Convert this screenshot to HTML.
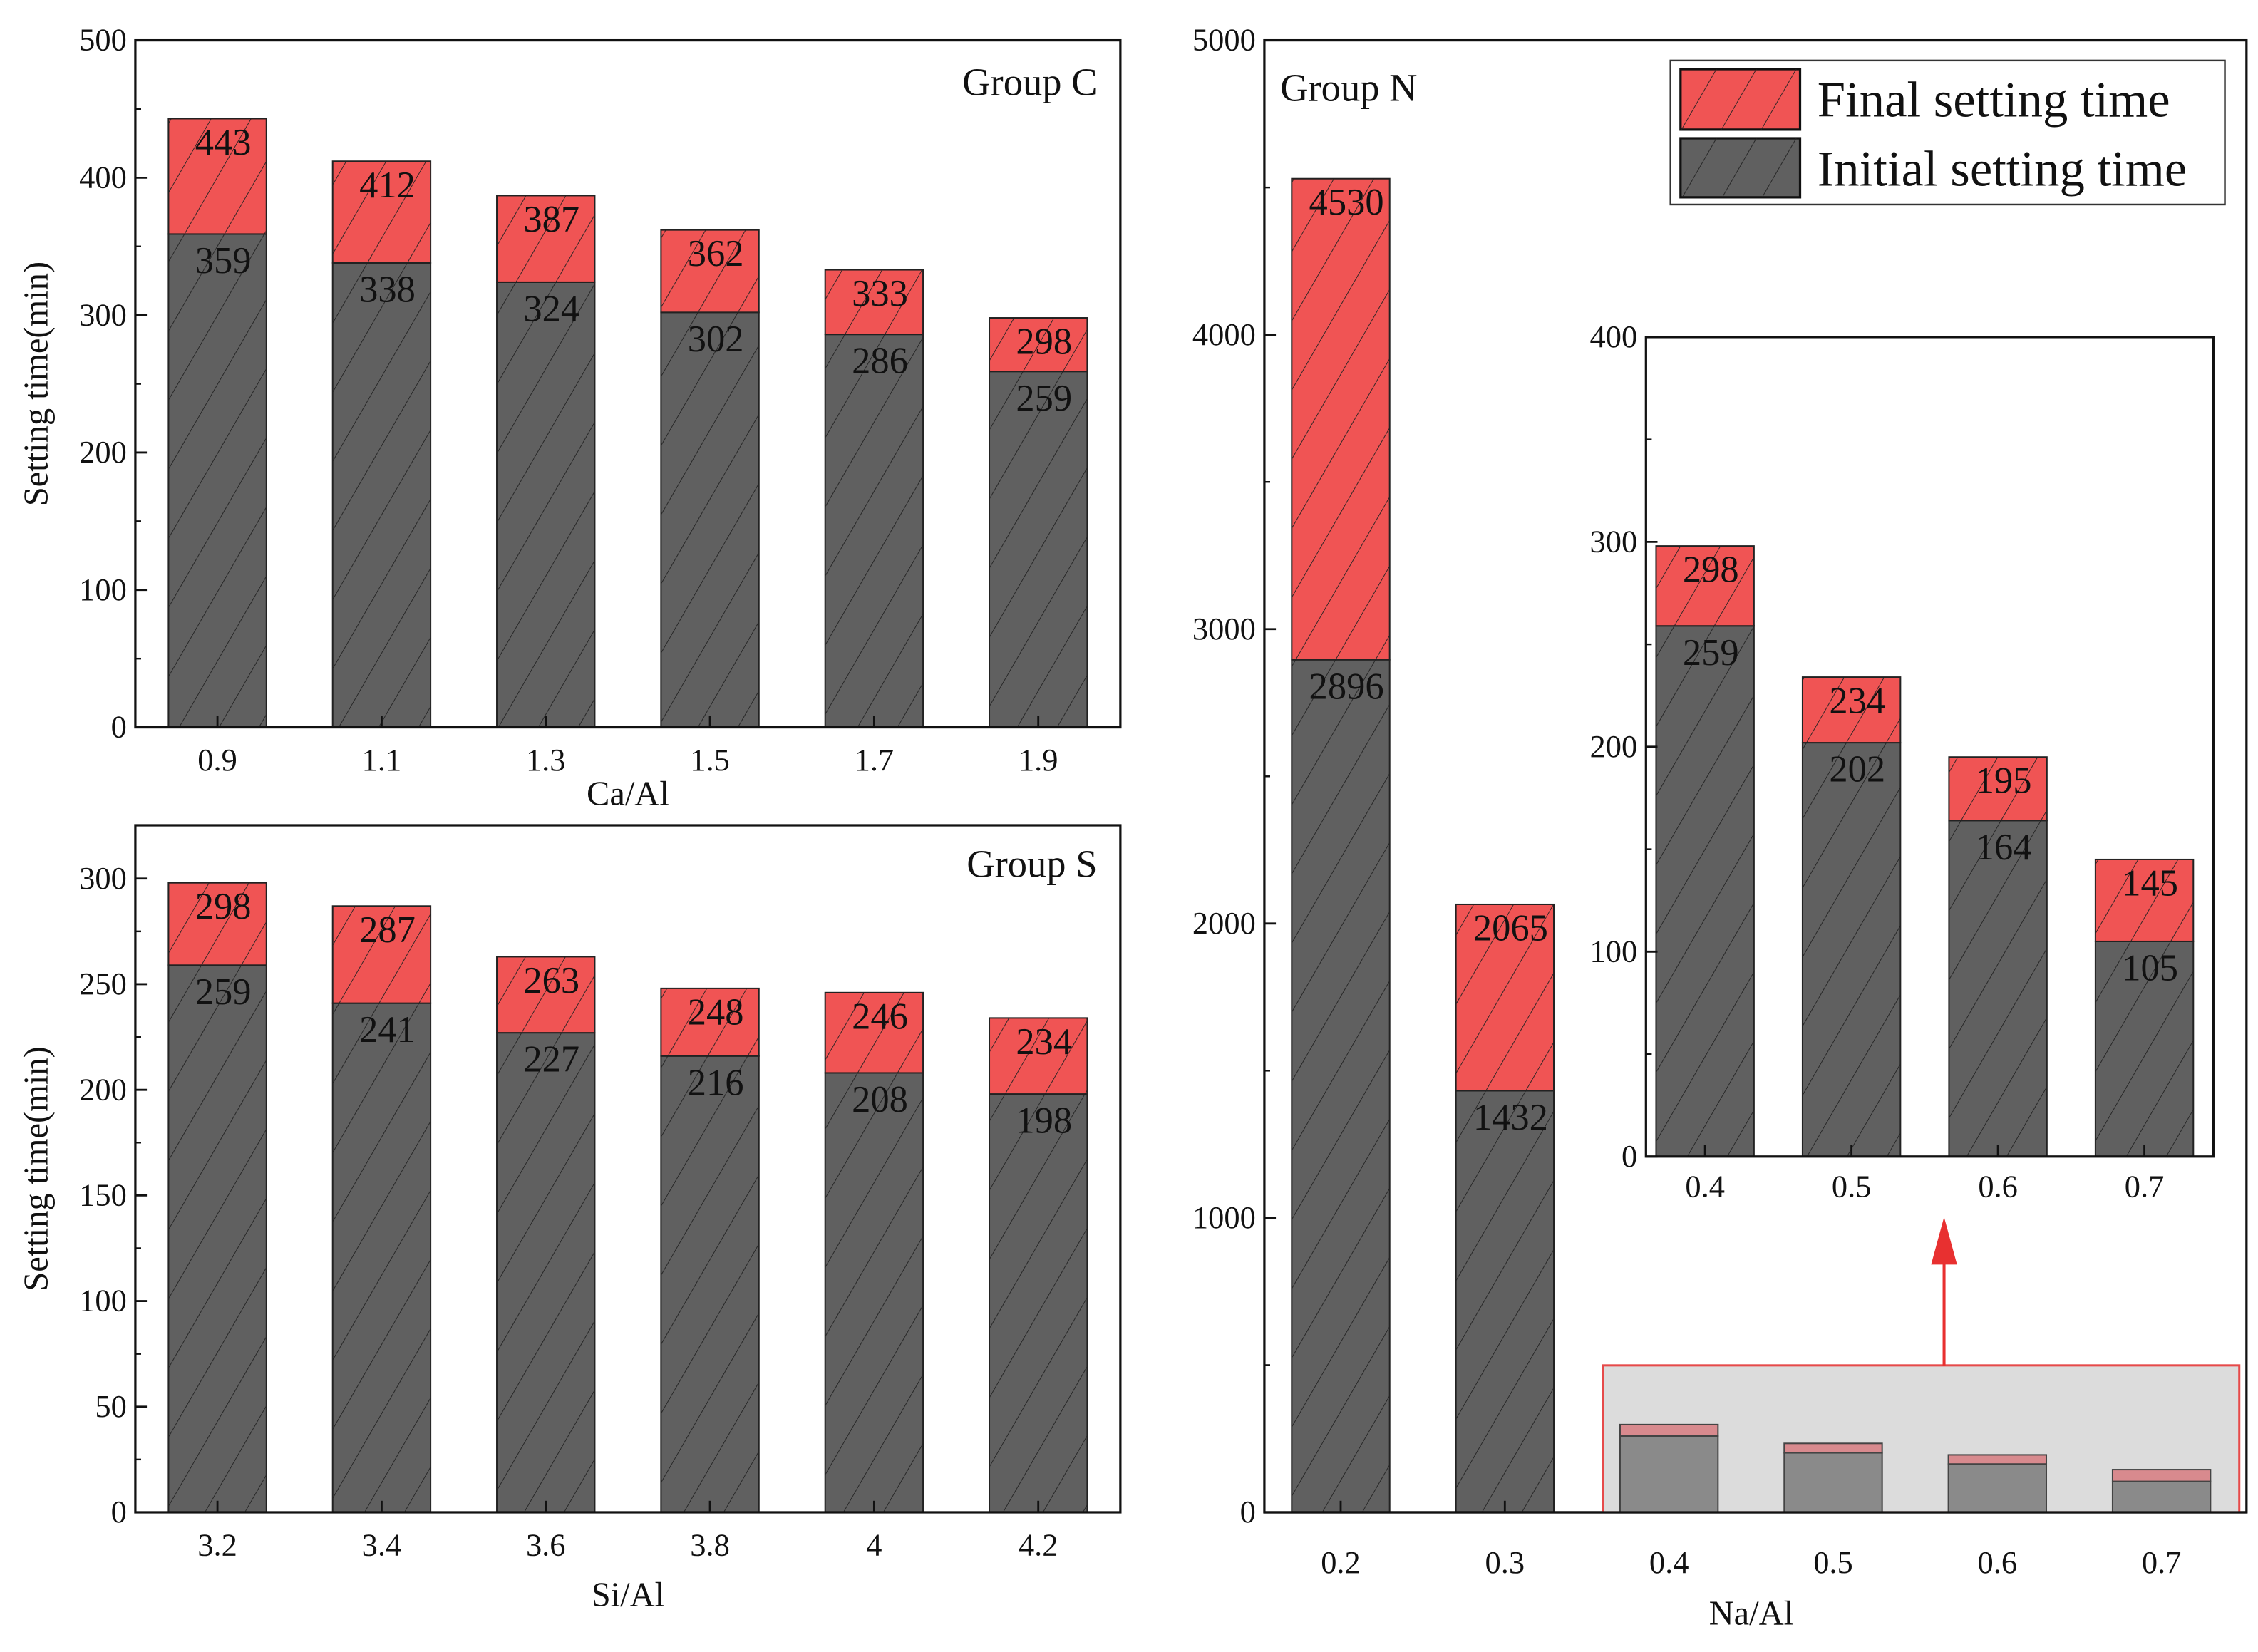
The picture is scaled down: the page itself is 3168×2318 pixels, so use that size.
<!DOCTYPE html>
<html><head><meta charset="utf-8"><style>
html,body{margin:0;padding:0;background:#fff;}
svg{display:block;}
svg text{font-family:"Liberation Serif","Times New Roman",serif;fill:#111;}
</style></head><body>
<svg id="fig" xmlns="http://www.w3.org/2000/svg" width="3168" height="2318" viewBox="0 0 1568 1147" preserveAspectRatio="none" font-family="Liberation Serif, serif">
<defs>
<pattern id="hatch" patternUnits="userSpaceOnUse" width="24" height="24" patternTransform="rotate(30)">
<line x1="0" y1="0" x2="0" y2="24" stroke="#222" stroke-width="0.9"/>
</pattern>
</defs>
<g id="root"></g>
</svg>
<script>
// ---- data ----
const catC = ["0.9","1.1","1.3","1.5","1.7","1.9"];
const initC = [359,338,324,302,286,259];
const finalC = [443,412,387,362,333,298];
const catS = ["3.2","3.4","3.6","3.8","4","4.2"];
const initS = [259,241,227,216,208,198];
const finalS = [298,287,263,248,246,234];
const catN = ["0.2","0.3","0.4","0.5","0.6","0.7"];
const initN = [2896,1432,259,202,164,105];
const finalN = [4530,2065,298,234,195,145];
const ticksC = [0,100,200,300,400,500];
const ticksS = [0,50,100,150,200,250,300];
const ticksN = [0,1000,2000,3000,4000,5000];
const ticksInset = [0,100,200,300,400];

const NS = "http://www.w3.org/2000/svg";
const root = document.getElementById('root');
function mk(tag, attrs, parent, txt){
  const e = document.createElementNS(NS, tag);
  for (const k in attrs) e.setAttribute(k, attrs[k]);
  if (tag === 'text') e.setAttribute('font-family', 'Liberation Serif, serif');
  if (txt !== undefined) e.textContent = txt;
  (parent||root).appendChild(e);
  return e;
}
const RED = "#f05454", GRAY = "#606060";

function panel(o){
  const g = mk('g', {});
  
  
  const yS = v => o.bottom - (v - 0) / (o.ymax) * (o.bottom - o.y0top);
  const xS = i => o.x0 + i * o.step;
  o.cats.forEach((c, i) => {
    if (o.skip && o.skip.includes(i)) return;
    const cx = xS(i), w = o.bw;
    const yi = yS(o.init[i]), yf = yS(o.fin[i]);
    const bi = mk('rect', {x: cx - w/2, y: yi, width: w, height: o.bottom - yi, fill: GRAY, stroke: '#222', 'stroke-width': 1}, g);
    
    
    const hi = mk('rect', {x: cx - w/2, y: yi, width: w, height: o.bottom - yi, fill: 'url(#hatch)'}, g);
    
    
    const bf = mk('rect', {x: cx - w/2, y: yf, width: w, height: yi - yf, fill: RED, stroke: '#222', 'stroke-width': 1}, g);
    
    
    const hf = mk('rect', {x: cx - w/2, y: yf, width: w, height: yi - yf, fill: 'url(#hatch)'}, g);
    
    
    const tf = mk('text', {x: cx + 4, y: yf + 25, 'text-anchor': 'middle', 'font-size': 26}, g, String(o.fin[i]));
    
    
    const ti = mk('text', {x: cx + 4, y: yi + 27, 'text-anchor': 'middle', 'font-size': 26}, g, String(o.init[i]));
    
    
  });
  const fr = mk('rect', {x: o.left, y: o.top, width: o.right - o.left, height: o.bottom - o.top, fill: 'none', stroke: '#111', 'stroke-width': 1.6}, g);
  
  
  o.ticks.forEach((t, k) => {
    const y = yS(t);
    mk('line', {x1: o.left, x2: o.left + 8, y1: y, y2: y, stroke: '#111', 'stroke-width': 1.4}, g);
    if (k < o.ticks.length - 1) {
      const ym = yS((t + o.ticks[k+1]) / 2);
      mk('line', {x1: o.left, x2: o.left + 4, y1: ym, y2: ym, stroke: '#111', 'stroke-width': 1.2}, g);
    }
    const tl = mk('text', {x: o.left - 6, y: y + 7, 'text-anchor': 'end', 'font-size': 22}, g, String(t));
    
    
  });
  o.cats.forEach((c, i) => {
    const x = xS(i);
    mk('line', {x1: x, x2: x, y1: o.bottom, y2: o.bottom - 8, stroke: '#111', 'stroke-width': 1.4}, g);
    const xl = mk('text', {x: x, y: o.xly, 'text-anchor': 'middle', 'font-size': 22}, g, c);
    
    
  });
  if (o.xtitle) {
    const xt = mk('text', {x: o.xtx, y: o.xty, 'text-anchor': 'middle', 'font-size': 24}, g, o.xtitle);
    
    
  }
  if (o.ytitle) {
    const yt = mk('text', {x: 0, y: 0, 'text-anchor': 'middle', 'font-size': 24, transform: `translate(33,${(o.top+o.bottom)/2}) rotate(-90)`}, g, o.ytitle);
    
    
  }
  if (o.group) {
    const gt = mk('text', {x: o.gx, y: o.gy, 'text-anchor': o.ganchor, 'font-size': 27}, g, o.group);
    
    
  }
  return {yS, xS, g};
}

panel({name:'panel-group-c', cats:catC, init:initC, fin:finalC, ticks:ticksC, ymax:500,
  left:94, right:778, top:28, bottom:505, y0top:28, x0:151, step:114, bw:68,
  xly:535, xtitle:'Ca/Al', xtx:436, xty:559, ytitle:'Setting time(min)', group:'Group C', gx:762, gy:66, ganchor:'end'});
panel({name:'panel-group-s', cats:catS, init:initS, fin:finalS, ticks:ticksS, ymax:300,
  left:94, right:778, top:573, bottom:1050, y0top:610, x0:151, step:114, bw:68,
  xly:1080, xtitle:'Si/Al', xtx:436, xty:1115, ytitle:'Setting time(min)', group:'Group S', gx:762, gy:609, ganchor:'end'});

const pN = panel({name:'panel-group-n', cats:catN, init:initN, fin:finalN, ticks:ticksN, ymax:5000,
  left:878, right:1560, top:28, bottom:1050, y0top:28, x0:931, step:114, bw:68, skip:[2,3,4,5],
  xly:1092, xtitle:'Na/Al', xtx:1216, xty:1128, group:'Group N', gx:889, gy:70, ganchor:'start'});

const zb = mk('rect', {x:1113, y:948, width:442, height:102, fill:'#dcdcdc', stroke:'#e64a4a', 'stroke-width':1.5});


for (let i = 2; i < 6; i++) {
  const cx = pN.xS(i), w = 68;
  const yi = pN.yS(initN[i]), yf = pN.yS(finalN[i]);
  const b1 = mk('rect', {x: cx - w/2, y: yi, width: w, height: 1050 - yi, fill: '#8a8a8a', stroke: '#444', 'stroke-width': 1});
  
  
  const b2 = mk('rect', {x: cx - w/2, y: yf, width: w, height: yi - yf, fill: '#d88a8e', stroke: '#444', 'stroke-width': 1});
  
  
}
mk('line', {x1:878, x2:1560, y1:1050, y2:1050, stroke:'#111', 'stroke-width':1.6});
const ar = mk('line', {x1:1350, y1:948, x2:1350, y2:870, stroke:'#e83030', 'stroke-width':2});


const ah = mk('polygon', {points:'1341,878 1359,878 1350,845', fill:'#e83030'});



const inBg = mk('rect', {x:1143, y:234, width:394, height:569, fill:'#fff'});


panel({name:'inset-chart', cats:catN.slice(2), init:initN.slice(2), fin:finalN.slice(2), ticks:ticksInset, ymax:400,
  left:1143, right:1537, top:234, bottom:803, y0top:234, x0:1184, step:101.7, bw:68, xly:831});

const lg = mk('g', {});


mk('rect', {x:1160, y:42, width:385, height:100, fill:'#fff', stroke:'#333', 'stroke-width':1.2}, lg);
const s1 = mk('rect', {x:1167, y:48, width:83, height:42, fill:RED, stroke:'#111', 'stroke-width':1.6}, lg);


mk('rect', {x:1167, y:48, width:83, height:42, fill:'url(#hatch)'}, lg);
const s2 = mk('rect', {x:1167, y:96, width:83, height:41, fill:GRAY, stroke:'#111', 'stroke-width':1.6}, lg);


mk('rect', {x:1167, y:96, width:83, height:41, fill:'url(#hatch)'}, lg);
const l1 = mk('text', {x:1262, y:81, 'font-size':35}, lg, 'Final setting time');


const l2 = mk('text', {x:1262, y:129, 'font-size':35}, lg, 'Initial setting time');


</script>
</body></html>
